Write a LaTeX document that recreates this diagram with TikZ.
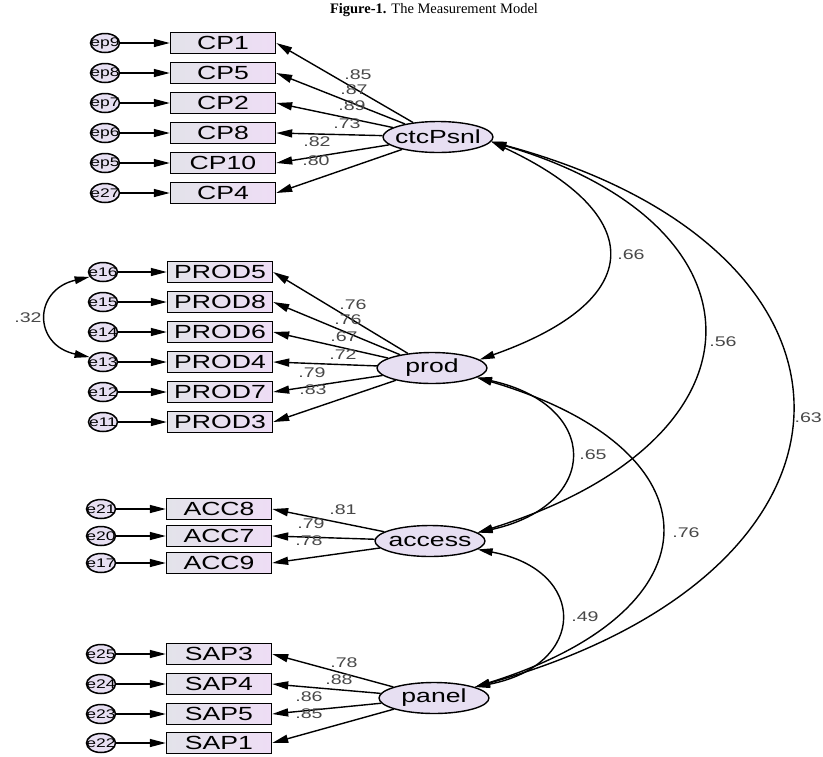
\documentclass[tikz,border=0pt]{standalone}
\usepackage{fontspec}
\setmainfont{Liberation Serif}
\newfontfamily\amos[FakeStretch=1.4]{Liberation Sans}
\usetikzlibrary{arrows.meta,shapes.geometric}
\definecolor{boxL}{HTML}{E3E3EA}
\definecolor{boxR}{HTML}{EEDDF5}
\definecolor{latF}{HTML}{E7DFF2}
\definecolor{numC}{HTML}{484848}
\begin{document}
\begin{tikzpicture}[x=1pt,y=-1pt,
  obs/.style={draw, line width=1.4pt, minimum width=105pt, minimum height=21pt, inner sep=0pt,
    left color=boxL, right color=boxR, font=\amos\fontsize{19}{19}\selectfont},
  lat/.style={ellipse, draw, line width=1.4pt, minimum width=110pt, minimum height=31pt, inner sep=0pt,
    fill=latF, font=\amos\fontsize{19}{19}\selectfont},
  err/.style={ellipse, draw, line width=1.5pt, minimum width=29pt, minimum height=19pt, inner sep=0pt,
    fill=latF, font=\amos\fontsize{12.5}{12.5}\selectfont},
  load/.style={line width=1.4pt, -{Triangle[length=16pt,width=8pt]}},
  cov/.style={line width=1.4pt, {Triangle[length=15pt,width=7.5pt]}-{Triangle[length=15pt,width=7.5pt]}},
  num/.style={font=\amos\fontsize{14}{14}\selectfont, text=numC, inner sep=0pt}
]
\useasboundingbox (0,0) rectangle (823,756);
\node[font=\fontsize{14.5}{14.5}\selectfont] (title) at (434,10) {\textbf{Figure-1.} The Measurement Model};

% latent variables
\node[lat] (ctc) at (438,137) {\makebox[0pt]{ctcPsnl}};
\node[lat] (prod) at (432,368) {\makebox[0pt]{prod}};
\node[lat] (acc) at (430,541) {\makebox[0pt]{access}};
\node[lat] (pan) at (434,698) {\makebox[0pt]{panel}};

% CP block
\foreach \n/\e/\y in {CP1/ep9/43, CP5/ep8/73, CP2/ep7/103, CP8/ep6/133, CP10/ep5/163, CP4/e27/193}{
  \node[obs] (\n) at (223,\y) {\n};
  \node[err] (\e) at (105,\y) {\makebox[0pt]{\e}};
  \draw[load] (\e) -- (\n);
  \draw[load] (ctc) -- (\n.east);
}
% PROD block
\foreach \n/\e/\y in {PROD5/e16/272, PROD8/e15/302, PROD6/e14/332, PROD4/e13/362, PROD7/e12/392, PROD3/e11/422}{
  \node[obs] (\n) at (220,\y) {\n};
  \node[err] (\e) at (103,\y) {\makebox[0pt]{\e}};
  \draw[load] (\e) -- (\n);
  \draw[load] (prod) -- (\n.east);
}
% ACC block
\foreach \n/\e/\y in {ACC8/e21/509, ACC7/e20/536, ACC9/e17/563}{
  \node[obs] (\n) at (219,\y) {\n};
  \node[err] (\e) at (101,\y) {\makebox[0pt]{\e}};
  \draw[load] (\e) -- (\n);
  \draw[load] (acc) -- (\n.east);
}
% SAP block
\foreach \n/\e/\y in {SAP3/e25/654, SAP4/e24/684, SAP5/e23/714, SAP1/e22/743}{
  \node[obs] (\n) at (219,\y) {\n};
  \node[err] (\e) at (101,\y) {\makebox[0pt]{\e}};
  \draw[load] (\e) -- (\n);
  \draw[load] (pan) -- (\n.east);
}

% loading labels
\node[num] (l1) at (358,75) {.85};
\node[num] (l2) at (354,90) {.87};
\node[num] (l3) at (352,106) {.89};
\node[num] (l4) at (347,124) {.73};
\node[num] (l5) at (317,142) {.82};
\node[num] (l6) at (316,161) {.80};
\node[num] (l7) at (353,305) {.76};
\node[num] (l8) at (348,320) {.76};
\node[num] (l9) at (344,337) {.67};
\node[num] (l10) at (343,355) {.72};
\node[num] (l11) at (312,373) {.79};
\node[num] (l12) at (313,390) {.83};
\node[num] (l13) at (343,510) {.81};
\node[num] (l14) at (311,524) {.79};
\node[num] (l15) at (309,541) {.78};
\node[num] (l16) at (344,663) {.78};
\node[num] (l17) at (339,680) {.88};
\node[num] (l18) at (309,697) {.86};
\node[num] (l19) at (309,714) {.85};

% covariances
\draw[cov] (ctc.-5) .. controls (648,215) and (648,300) .. (prod.10);
\draw[cov] (ctc.-5) .. controls (775,225) and (775,440) .. (acc.10);
\draw[cov] (ctc.-5) .. controls (893,250) and (893,570) .. (pan.15);
\draw[cov] (prod.-12) .. controls (601,405) and (601,505) .. (acc.10);
\draw[cov] (prod.-12) .. controls (722,450) and (722,610) .. (pan.15);
\draw[cov] (acc.-10) .. controls (588,570) and (588,665) .. (pan.15);
\draw[cov] (e16.200) .. controls (33,290) and (33,345) .. (e13.160);

\node[num] (c1) at (631,255) {.66};
\node[num] (c2) at (723,342) {.56};
\node[num, anchor=east] (c3) at (822,418) {.63};
\node[num] (c4) at (593,455) {.65};
\node[num] (c5) at (686,533) {.76};
\node[num] (c6) at (585,617) {.49};
\node[num] (c7) at (28,318) {.32};
\end{tikzpicture}
\end{document}
